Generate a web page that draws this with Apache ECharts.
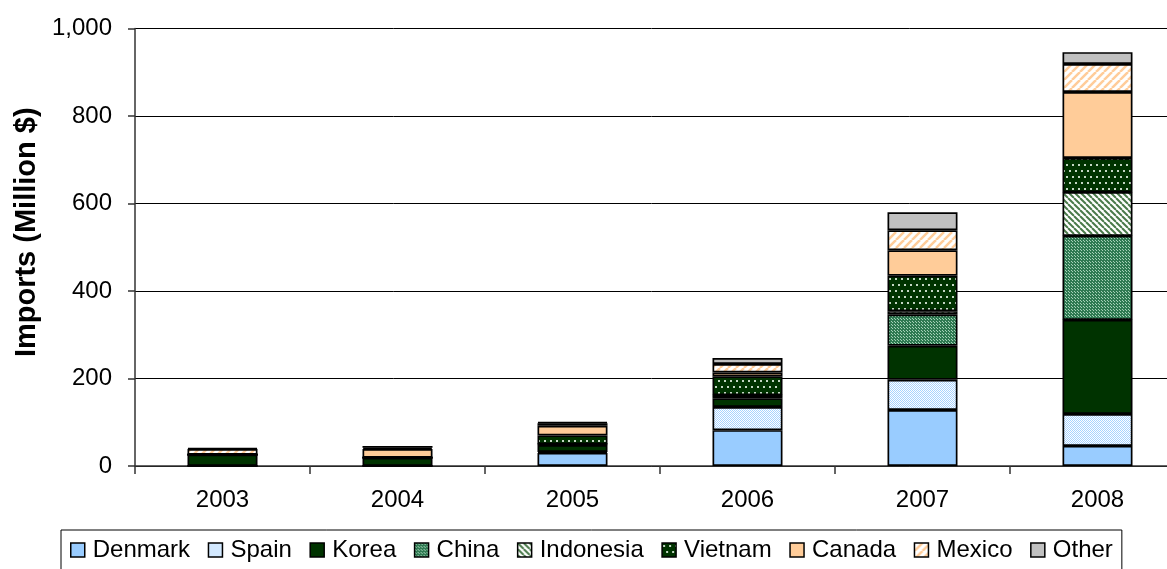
<!DOCTYPE html>
<html>
<head>
<meta charset="utf-8">
<script src="https://cdn.jsdelivr.net/npm/echarts/dist/echarts.min.js"></script>
<style>
  html, body { margin: 0; padding: 0; background: #fff; }
  #chart { width: 1167px; height: 569px; }
</style>
</head>
<body>
<div id="chart"></div>
<script>
// Import values by supplying country, million dollars
const years = ['2003', '2004', '2005', '2006', '2007', '2008'];
const denmark   = [0, 0, 30, 82, 128, 46];
const spain     = [0, 0, 2, 53, 69, 73];
const korea     = [26, 19, 16, 20, 78, 215];
const china     = [0, 0, 2, 6, 71, 192];
const indonesia = [0, 0, 0, 1, 8, 100];
const vietnam   = [0, 0, 20, 43, 81, 78];
const canada    = [0, 20, 22, 9, 58, 151];
const mexico    = [13, 3, 6, 19, 46, 64];
const other     = [2, 4, 2, 14, 41, 27];

const FONT = "'Liberation Sans', Arial, sans-serif";

// Small canvas tiles used as repeating fills
function tile(w, h, draw) {
  const c = document.createElement('canvas');
  c.width = w; c.height = h;
  const g = c.getContext('2d');
  draw(g, w, h);
  return { image: c, repeat: 'repeat' };
}
function checker(a, b) {
  return tile(2, 2, (g) => {
    g.fillStyle = a; g.fillRect(0, 0, 2, 2);
    g.fillStyle = b; g.fillRect(1, 0, 1, 1); g.fillRect(0, 1, 1, 1);
  });
}
function stripes(bg, fg, size, width, down) {
  return tile(size, size, (g, w, h) => {
    g.fillStyle = bg; g.fillRect(0, 0, w, h);
    g.strokeStyle = fg; g.lineWidth = width;
    for (let k = -1; k <= 1; k++) {
      g.beginPath();
      if (down) { g.moveTo(k * w, 0); g.lineTo(k * w + w, h); }
      else { g.moveTo(k * w, h); g.lineTo(k * w + w, 0); }
      g.stroke();
    }
  });
}
const dots = tile(6, 12, (g) => {
  g.fillStyle = '#003300'; g.fillRect(0, 0, 6, 12);
  g.fillStyle = '#c4d6c4';
  g.fillRect(1, 2, 2, 2);
  g.fillRect(4, 8, 2, 2);
});

const fills = {
  Denmark: '#99ccff',
  Spain: checker('#a8d3ff', '#ffffff'),
  Korea: '#003300',
  China: tile(3, 3, (g) => {
    g.fillStyle = '#2f7a52'; g.fillRect(0, 0, 3, 3);
    g.fillStyle = '#a6d2b8'; g.fillRect(1, 1, 1, 1); g.fillRect(0, 0, 1, 1);
  }),
  Indonesia: stripes('#ffffff', '#4a7a4a', 6, 2, true),
  Vietnam: dots,
  Canada: '#ffcc99',
  Mexico: stripes('#ffffff', '#ffcc99', 8, 2.5, false),
  Other: '#c0c0c0'
};

const seriesData = [
  ['Denmark', denmark], ['Spain', spain], ['Korea', korea], ['China', china],
  ['Indonesia', indonesia], ['Vietnam', vietnam], ['Canada', canada],
  ['Mexico', mexico], ['Other', other]
];

const chart = echarts.init(document.getElementById('chart'), null, { renderer: 'canvas' });

chart.setOption({
  animation: false,
  backgroundColor: '#ffffff',
  textStyle: { fontFamily: FONT },
  // plot area runs past the right edge of the page
  grid: {
    left: 135, top: 28.5, height: 437.5, width: 1050,
    containLabel: false, outerBoundsMode: 'none'
  },
  xAxis: {
    type: 'category',
    data: years,
    axisLine: { lineStyle: { color: '#333', width: 1.5 } },
    axisTick: { show: true, length: 8, lineStyle: { color: '#333', width: 1.5 } },
    axisLabel: { fontSize: 24, color: '#000', margin: 22, fontFamily: FONT }
  },
  yAxis: {
    type: 'value',
    min: 0, max: 1000, interval: 200,
    name: 'Imports (Million $)',
    nameLocation: 'middle',
    nameGap: 90,
    nameTextStyle: {
      fontSize: 29, fontWeight: 'bold', color: '#000', fontFamily: FONT,
      padding: [0, 0, 0, 30]
    },
    axisLine: { show: true, lineStyle: { color: '#333', width: 1.5 } },
    axisTick: { show: true, length: 7, lineStyle: { color: '#333', width: 1.5 } },
    axisLabel: {
      fontSize: 24, color: '#000', margin: 23, fontFamily: FONT,
      formatter: (v) => v.toLocaleString('en-US')
    },
    splitLine: { show: true, lineStyle: { color: '#000', width: 1 } }
  },
  legend: {
    left: 61, top: 530,
    padding: [8, 9, 20, 9],
    backgroundColor: '#fff',
    borderColor: '#000', borderWidth: 1,
    itemWidth: 14, itemHeight: 14, itemGap: 17.6,
    icon: 'rect',
    itemStyle: { borderColor: '#000', borderWidth: 1.5 },
    textStyle: { fontSize: 24, color: '#000', fontFamily: FONT, padding: [0, 0, 0, 3] },
    data: seriesData.map(s => s[0])
  },
  series: seriesData.map(([name, values]) => ({
    name,
    type: 'bar',
    stack: 'imports',
    barWidth: 70,
    data: values,
    itemStyle: { color: fills[name], borderColor: '#000', borderWidth: 1.7 }
  }))
});
</script>
</body>
</html>
